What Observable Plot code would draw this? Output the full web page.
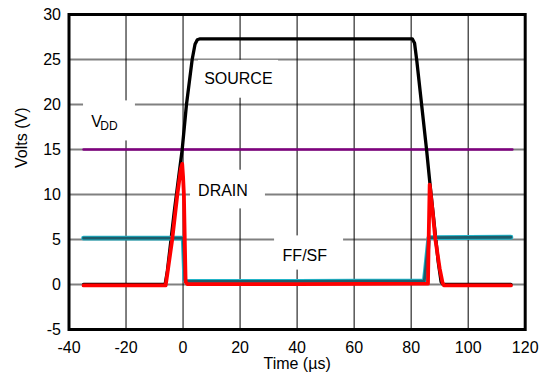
<!DOCTYPE html>
<html><head><meta charset="utf-8">
<script src="https://cdn.jsdelivr.net/npm/d3@7"></script>
<script src="https://cdn.jsdelivr.net/npm/@observablehq/plot@0.6"></script>
<style>body{margin:0;background:#fff} svg{display:block}</style>
</head><body><div id="chart"></div>
<script>
// Tick values
const xTicks = [-40, -20, 0, 20, 40, 60, 80, 100, 120];
const yTicks = [-5, 0, 5, 10, 15, 20, 25, 30];

// VDD (purple)
const vddT = [-34.9, 115.5];
const vddV = [15, 15];

// SOURCE (black)
const sourceT = [-34.9, -6.3, -5.5, -3, -0.3, 1.2, 3.2, 4.2, 5, 6, 20, 40, 60, 80.4, 81.2, 82, 85.4, 86.5, 89.5, 90.5, 91.2, 115];
const sourceV = [0, 0, 1.5, 8.3, 15, 20, 25, 26.7, 27.2, 27.3, 27.3, 27.3, 27.3, 27.3, 26.8, 24.8, 15, 11.5, 2.5, 0.3, 0, 0];

// DRAIN (red)
const drainT = [-34.9, -6.1, -5.5, -3.8, -2.0, -0.8, -0.3, 0.0, 0.3, 0.6, 0.9, 1.5, 40, 85.9, 86.2, 86.5, 87.5, 88.5, 90.0, 91.0, 91.5, 115];
const drainV = [-0.1, -0.1, 1.2, 5, 10, 12.8, 13.4, 12, 10, 5, 0.3, 0.05, 0.05, 0.1, 6, 11.1, 8.2, 5, 1.8, 0.2, -0.1, -0.1];

// FF/SF (teal)
const ffT = [-34.9, -0.1, 0.1, 0.6, 1.2, 40, 84.6, 85.0, 86.2, 115];
const ffV = [5.15, 5.15, 4.8, 0.5, 0.35, 0.35, 0.4, 1.5, 5.2, 5.25];

// Annotation labels and their white backgrounds
const boxX1 = [-34.9, 5.4, 2.6, 32.1];
const boxX2 = [-16.7, 33.5, 28.9, 56.3];
const boxY1 = [15.95, 20.7, 8.4, 1.6];
const boxY2 = [20.4, 24.9, 12.7, 5.4];

const labelText = ["SOURCE", "DRAIN", "FF/SF"];
const labelX = [19.4, 14.0, 42.7];
const labelY = [22.8, 10.4, 3.2];

const vddMain = {text: "V", x: -32.2, y: 18.05};
const vddSub = {text: "DD", x: -29.0, y: 17.55};

const zip = (t, v) => t.map((d, i) => ({t: d, v: v[i]}));
const boxes = boxX1.map((d, i) => ({x1: d, x2: boxX2[i], y1: boxY1[i], y2: boxY2[i]}));
const labels = labelText.map((d, i) => ({text: d, x: labelX[i], y: labelY[i]}));

const font = "'Liberation Sans', Arial, Helvetica, sans-serif";
const fmt = d => String(d);

const chart = Plot.plot({
  width: 543, height: 377,
  marginLeft: 68.5, marginRight: 18.3, marginTop: 14, marginBottom: 48,
  style: {fontFamily: font, fontSize: "16px", color: "#000", background: "#fff"},
  x: {domain: [-40, 120]},
  y: {domain: [-5, 30]},
  marks: [
    Plot.gridY(yTicks, {stroke: "#808080", strokeOpacity: 1, strokeWidth: 2}),
    Plot.gridX(xTicks, {stroke: "#000", strokeOpacity: 1, strokeWidth: 1}),
    Plot.rect(boxes, {x1: "x1", x2: "x2", y1: "y1", y2: "y2", fill: "#fff"}),
    Plot.line(zip(vddT, vddV), {x: "t", y: "v", stroke: "#800080", strokeWidth: 2.5}),
    Plot.line(zip(sourceT, sourceV), {x: "t", y: "v", stroke: "#000", strokeWidth: 3.3, strokeLinejoin: "round"}),
    Plot.line(zip(ffT, ffV), {x: "t", y: "v", stroke: "#22b4c8", strokeWidth: 4.8, strokeLinejoin: "round"}),
    Plot.line(zip(ffT, ffV), {x: "t", y: "v", stroke: "#1d5d6b", strokeWidth: 2.8, strokeLinejoin: "round"}),
    Plot.line(zip(drainT, drainV), {x: "t", y: "v", stroke: "#ff0000", strokeWidth: 3.8, strokeLinejoin: "round"}),
    Plot.frame({stroke: "#000", strokeWidth: 3}),
    Plot.axisX(xTicks, {tickSize: 0, tickPadding: 12, label: null, fontSize: 16, tickFormat: fmt}),
    Plot.axisY(yTicks, {tickSize: 0, tickPadding: 8, label: null, fontSize: 16, tickFormat: fmt}),
    Plot.text(labels, {x: "x", y: "y", text: "text", fontSize: 16, textAnchor: "middle", fill: "#000"}),
    Plot.text([vddMain], {x: "x", y: "y", text: "text", fontSize: 16, textAnchor: "start", fill: "#000"}),
    Plot.text([vddSub], {x: "x", y: "y", text: "text", fontSize: 12, textAnchor: "start", fill: "#000"}),
    Plot.text(["Time (\u00b5s)"], {frameAnchor: "bottom", dy: 39, fontSize: 16, fill: "#000"}),
    Plot.text(["Volts (V)"], {frameAnchor: "left", rotate: -90, dx: -47, dy: -4, fontSize: 16, fill: "#000"})
  ]
});
document.getElementById("chart").appendChild(chart);
</script>
</body></html>
